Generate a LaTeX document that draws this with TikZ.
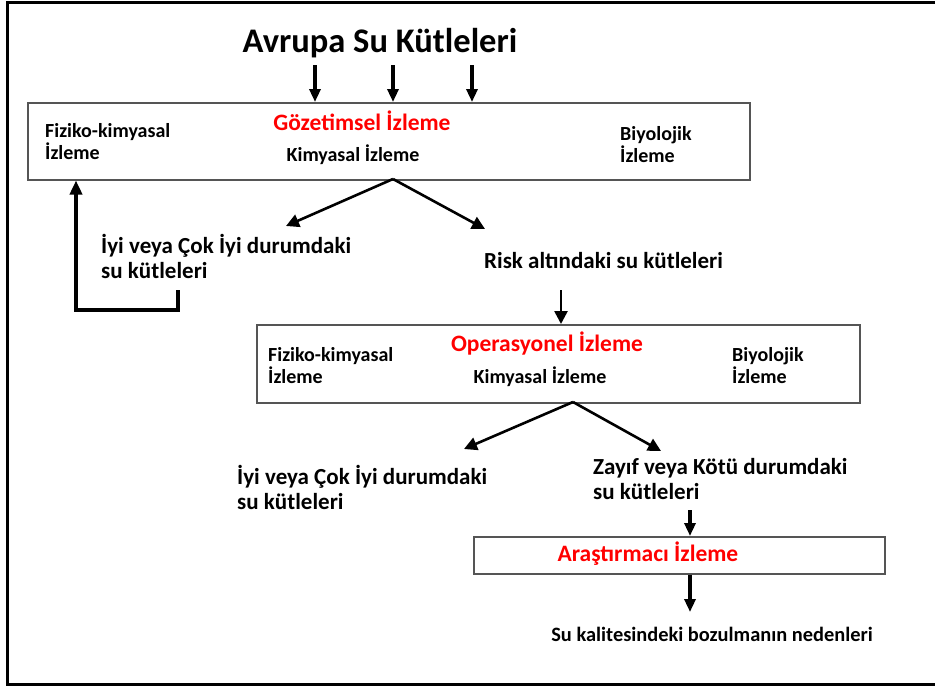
\documentclass[tikz,border=0pt]{standalone}
\usepackage{fontspec}
\setmainfont{Carlito}
\usetikzlibrary{arrows.meta}
\definecolor{boxgray}{HTML}{555555}
\definecolor{redtxt}{HTML}{FF0000}
\tikzset{
  frame/.style={line width=3pt, black},
  mbox/.style={draw=boxgray, line width=1.5pt},
  arr/.style={line width=2.6pt, -{Triangle[length=13pt,width=13pt]}},
  thickarr/.style={line width=3.2pt, -{Triangle[length=13pt,width=11pt]}},
  loop/.style={line width=4pt, -{Triangle[length=14pt,width=12pt]}},
  lbl/.style={font=\bfseries\fontsize{20}{22}\selectfont, inner sep=0pt, align=left},
  redlbl/.style={font=\bfseries\fontsize{23.5}{27}\selectfont, text=redtxt, inner sep=0pt},
  biglbl/.style={font=\bfseries\fontsize{23}{25}\selectfont, inner sep=0pt, align=left},
  titlelbl/.style={font=\bfseries\fontsize{34.5}{40}\selectfont, inner sep=0pt},
  nedenlbl/.style={font=\bfseries\fontsize{20.4}{24}\selectfont, inner sep=0pt},
}
\begin{document}
\begin{tikzpicture}[x=1pt,y=-1pt]
\useasboundingbox (0,0) rectangle (935,686);
% outer frame
\draw[frame] (935,2) -- (7,2) -- (7,684) -- (935,684);

% title
\node[titlelbl, anchor=base] (title) at (380,52) {Avrupa Su Kütleleri};
\coordinate (t1) at (315,65);
\coordinate (t2) at (393,65);
\coordinate (t3) at (472,65);

% box 1
\node[mbox, minimum width=722pt, minimum height=77pt, anchor=north west, inner sep=0pt] (box1) at (27,102) {};
\node[redlbl, anchor=base] (goz) at (362,130) {Gözetimsel İzleme};
\node[lbl, anchor=base west] (fk1) at (45,159) {Fiziko-kimyasal\\İzleme};
\node[lbl, anchor=base] (kim1) at (353,161) {Kimyasal İzleme};
\node[lbl, anchor=base west] (bio1) at (620,162) {Biyolojik\\İzleme};

\draw[thickarr] (t1) -- (t1 |- box1.north);
\draw[thickarr] (t2) -- (t2 |- box1.north);
\draw[thickarr] (t3) -- (t3 |- box1.north);

% outputs of box 1
\coordinate (b1s) at (393,179);
\node[biglbl, anchor=base west] (iyi1) at (101,278) {İyi veya Çok İyi durumdaki\\su kütleleri};
\node[biglbl, anchor=base west] (risk) at (484,268) {Risk altındaki su kütleleri};
\coordinate (a1l) at (286,226);
\coordinate (a1r) at (485,229);
\draw[arr] (b1s) -- (a1l);
\draw[arr] (b1s) -- (a1r);

% feedback loop
\coordinate (fb1) at (178,290);
\coordinate (fb2) at (178,310);
\coordinate (fb3) at (76,310);
\draw[loop] (fb1) -- (fb2) -- (fb3) -- (fb3 |- box1.south);

% risk to box 2
\node[mbox, minimum width=603pt, minimum height=78pt, anchor=north west, inner sep=0pt] (box2) at (256,324) {};
\coordinate (r1) at (561,290);
\draw[arr] (r1) -- (r1 |- box2.north);

\node[redlbl, anchor=base] (ops) at (547,351) {Operasyonel İzleme};
\node[lbl, anchor=base west] (fk2) at (268,383) {Fiziko-kimyasal\\İzleme};
\node[lbl, anchor=base] (kim2) at (540,383) {Kimyasal İzleme};
\node[lbl, anchor=base west] (bio2) at (732,383) {Biyolojik\\İzleme};

% outputs of box 2
\coordinate (b2s) at (573,402);
\coordinate (a2l) at (464,449);
\coordinate (a2r) at (661,451);
\draw[arr] (b2s) -- (a2l);
\draw[arr] (b2s) -- (a2r);
\node[biglbl, anchor=base west] (iyi2) at (237,509) {İyi veya Çok İyi durumdaki\\su kütleleri};
\node[biglbl, anchor=base west] (zayif) at (593,499) {Zayıf veya Kötü durumdaki\\su kütleleri};

% box 3
\node[mbox, minimum width=411pt, minimum height=37pt, anchor=north west, inner sep=0pt] (box3) at (473,536) {};
\node[redlbl, anchor=base] (ara) at (648,561) {Araştırmacı İzleme};
\coordinate (z1) at (690,510);
\draw[thickarr] (z1) -- (z1 |- box3.north);

\node[nedenlbl, anchor=base] (neden) at (712,641) {Su kalitesindeki bozulmanın nedenleri};
\coordinate (z2) at (690,612);
\draw[thickarr] (box3.south -| z1) -- (z2);
\end{tikzpicture}
\end{document}
